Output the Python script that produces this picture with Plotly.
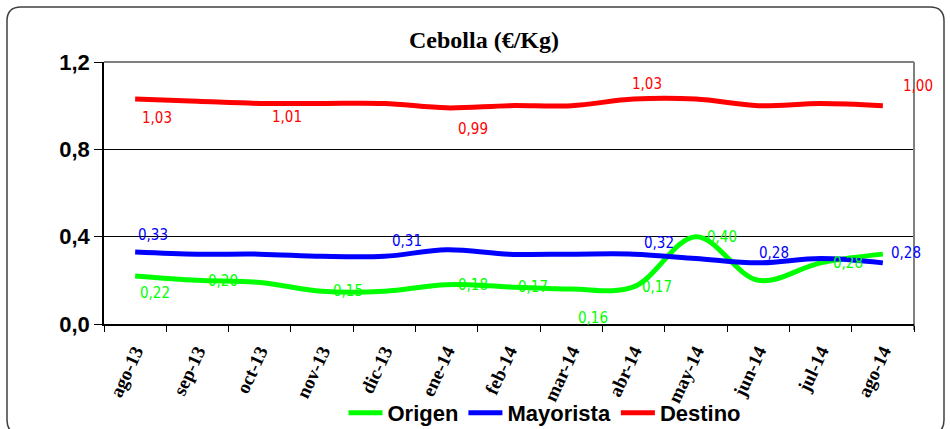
import plotly.graph_objects as go

# Monthly onion prices (EUR/kg) at three points of the supply chain
months = ["ago-13", "sep-13", "oct-13", "nov-13", "dic-13", "ene-14", "feb-14",
          "mar-14", "abr-14", "may-14", "jun-14", "jul-14", "ago-14"]
origen = [0.22, 0.20, 0.19, 0.15, 0.15, 0.18, 0.17, 0.16, 0.17, 0.40, 0.20, 0.28, 0.32]
mayorista = [0.33, 0.32, 0.32, 0.31, 0.31, 0.34, 0.32, 0.32, 0.32, 0.30, 0.28, 0.30, 0.28]
destino = [1.03, 1.02, 1.01, 1.01, 1.01, 0.99, 1.00, 1.00, 1.03, 1.03, 1.00, 1.01, 1.00]
y_ticks = [0.0, 0.4, 0.8, 1.2]

series = [
    ("Origen", origen, "#00FF00"),
    ("Mayorista", mayorista, "#0000FF"),
    ("Destino", destino, "#FF0000"),
]

# Which points carry a value label, and the pixel offset of each label
label_offsets = {
    "Origen": {0: (20, -17), 1: (26, -1), 3: (26, 0), 5: (26, 0), 6: (24, 0),
               7: (22, -29), 8: (23, 0), 9: (26, 0), 11: (27, 0)},
    "Mayorista": {0: (18, 17), 4: (23, 15), 8: (25, 11), 10: (16, 10), 12: (23, 10)},
    "Destino": {0: (22, -19), 2: (27, -14), 5: (26, -21), 8: (13, 15), 12: (35, 20)},
}

LABEL_FONT = "Liberation Sans Narrow, DejaVu Sans Condensed, Arial Narrow, sans-serif"

fig = go.Figure()
for name, values, color in series:
    fig.add_trace(go.Scatter(
        x=months, y=values, name=f"<b>{name}</b>", mode="lines",
        line=dict(color=color, width=5, shape="spline", smoothing=1.0),
        hoverinfo="skip",
    ))

annotations = []
for name, values, color in series:
    for idx, (dx, dy) in label_offsets[name].items():
        annotations.append(dict(
            x=months[idx], y=values[idx], xref="x", yref="y",
            text=f"{values[idx]:.2f}".replace(".", ","), showarrow=False,
            xshift=dx, yshift=dy,
            font=dict(family=LABEL_FONT, size=15, color=color),
        ))
fig.update_layout(annotations=annotations)

W, H = 950, 429
ML, MR, MT, MB = 104, 36, 62, 105


def px_to_paper(px, py):
    return (px - ML) / (W - ML - MR), (H - MB - py) / (H - MT - MB)


# Outer rounded frame of the chart, built in pixels then mapped to paper units
r = 14
x0, y0, x1, y1 = 7, 7, 944, 434
corners = [("M", x0 + r, y0), ("L", x1 - r, y0), ("Q", x1, y0), ("", x1, y0 + r),
           ("L", x1, y1 - r), ("Q", x1, y1), ("", x1 - r, y1), ("L", x0 + r, y1),
           ("Q", x0, y1), ("", x0, y1 - r), ("L", x0, y0 + r), ("Q", x0, y0), ("", x0 + r, y0)]
parts = []
for cmd, px, py in corners:
    u, v = px_to_paper(px, py)
    parts.append(f"{cmd} {u:.5f},{v:.5f}".strip())
paper_path = " ".join(parts) + " Z"

fig.add_shape(type="path", path=paper_path, xref="paper", yref="paper",
              line=dict(color="#404040", width=1.5), layer="below")
# Grey top and right edges of the plot area
fig.add_shape(type="line", xref="paper", yref="paper", x0=0, x1=1, y0=1, y1=1,
              line=dict(color="#808080", width=2))
fig.add_shape(type="line", xref="paper", yref="paper", x0=1, x1=1, y0=0, y1=1.0,
              line=dict(color="#808080", width=2))
fig.add_shape(type="line", xref="paper", yref="paper", x0=1, x1=1,
              y0=0, y1=px_to_paper(0, 330)[1], line=dict(color="black", width=1))

fig.update_layout(
    width=W, height=H,
    margin=dict(l=ML, r=MR, t=MT, b=MB, autoexpand=False),
    paper_bgcolor="white", plot_bgcolor="white",
    separators=",.",
    title=dict(text="<b>Cebolla (€/Kg)</b>", x=(484 - ML) / (W - ML - MR), xref="paper",
               xanchor="center", y=1 - 40 / H, yref="container", yanchor="middle",
               font=dict(family="Liberation Serif, Times New Roman, serif", size=24, color="black")),
    xaxis=dict(
        type="category", range=[-0.5, 12.5], tickson="boundaries", automargin=False,
        showline=True, linecolor="black", linewidth=1.5,
        ticks="outside", ticklen=6, tickcolor="black", tickwidth=1,
        showgrid=False, tickangle=-65, ticklabelstandoff=7,
        tickfont=dict(family="Liberation Serif, Times New Roman, serif", size=19,
                      color="black", weight="bold"),
    ),
    yaxis=dict(
        range=[0, 1.2], tickvals=y_ticks, tickformat=".1f", automargin=False,
        showline=True, linecolor="black", linewidth=1.5,
        ticks="outside", ticklen=8, tickcolor="black",
        showgrid=True, gridcolor="black", gridwidth=1, zeroline=False,
        tickfont=dict(family="Liberation Sans, Arial, sans-serif", size=22,
                      color="black", weight="bold"),
    ),
    legend=dict(
        orientation="h", x=(545 - ML) / (W - ML - MR), xanchor="center",
        y=(H - MB - 413) / (H - MT - MB), yanchor="middle",
        font=dict(family="Liberation Sans, Arial, sans-serif", size=22, color="black"),
        bgcolor="rgba(0,0,0,0)", itemwidth=34, tracegroupgap=0,
    ),
    showlegend=True,
)

fig.write_html("out.html")
